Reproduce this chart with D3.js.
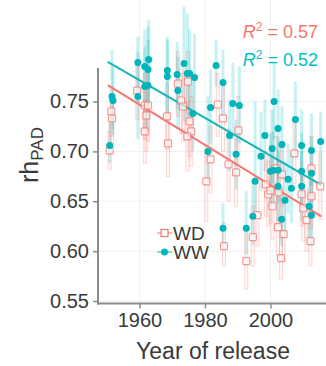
<!DOCTYPE html>
<html lang="en">
<head>
<meta charset="UTF-8">
<title>rhPAD by year of release</title>
<script src="https://d3js.org/d3.v7.min.js"></script>
<style>
  html, body { margin: 0; padding: 0; background: #fff; }
  svg { display: block; font-family: "Liberation Sans", Arial, sans-serif; }
  .tick text { fill: #3a3a3a; font-size: 20px; }
</style>
</head>
<body>
<svg id="chart" width="326" height="366"></svg>
<script>
// WW series (filled circles): year, value, lower and upper end of the bar
const wwYear  = [1950.9,1951.6,1951.9,1959.5,1959.5,1961.6,1962.8,1962.6,1961.6,1962.6,1968.5,1968.5,1971.5,1971.7,1973.6,1974.6,1975.3,1976.8,1976.3,1980.9,1981.7,1983.4,1985.5,1985.5,1988.5,1990.5,1987.5,1989.5,1992.6,1994.6,1995.3,1997.1,1998.3,2000.5,2001.1,2002.3,2003.5,2000.0,2000.8,2002.3,2002.3,2005.4,2006.4,2004.4,2003.4,2007.6,2009.5,2009.5,2009.5,2011.8,2012.5,2012.5,2012.5,2015.3];
const wwValue = [0.706,0.755,0.751,0.789,0.755,0.785,0.792,0.782,0.765,0.766,0.781,0.775,0.777,0.761,0.788,0.778,0.778,0.774,0.738,0.700,0.744,0.786,0.769,0.623,0.748,0.746,0.716,0.697,0.623,0.635,0.670,0.695,0.716,0.703,0.750,0.723,0.707,0.680,0.681,0.681,0.665,0.672,0.663,0.651,0.632,0.732,0.706,0.680,0.665,0.645,0.701,0.678,0.636,0.710];
const wwLow   = [0.688,0.722,0.716,0.748,0.712,0.738,0.748,0.735,0.722,0.720,0.740,0.735,0.742,0.722,0.730,0.728,0.735,0.738,0.700,0.668,0.708,0.765,0.733,0.603,0.712,0.708,0.680,0.662,0.597,0.606,0.635,0.660,0.680,0.668,0.712,0.688,0.672,0.645,0.645,0.648,0.630,0.638,0.628,0.615,0.605,0.695,0.670,0.645,0.630,0.612,0.665,0.642,0.605,0.668];
const wwHigh  = [0.728,0.802,0.785,0.815,0.800,0.822,0.832,0.825,0.805,0.812,0.815,0.812,0.810,0.795,0.845,0.838,0.822,0.818,0.778,0.755,0.782,0.812,0.802,0.648,0.789,0.785,0.752,0.732,0.660,0.668,0.750,0.740,0.752,0.742,0.790,0.762,0.745,0.718,0.720,0.715,0.700,0.708,0.700,0.690,0.665,0.770,0.742,0.718,0.700,0.680,0.738,0.715,0.670,0.740];

// WD series (open squares)
const wdYear  = [1950.9,1951.4,1951.6,1959.3,1961.6,1962.6,1962.1,1961.6,1968.4,1968.7,1971.7,1974.8,1972.7,1973.3,1975.3,1975.8,1974.6,1981.7,1980.4,1983.9,1985.5,1985.8,1987.2,1989.5,1990.2,1992.6,1994.6,1996.0,1998.6,1999.3,2000.0,2000.6,2001.5,2002.3,2002.5,2003.5,2003.2,2004.0,2007.3,2009.5,2010.0,2011.0,2012.2,2012.5,2012.5,2015.2];
const wdValue = [0.701,0.740,0.733,0.761,0.746,0.746,0.736,0.720,0.735,0.708,0.768,0.770,0.751,0.745,0.730,0.720,0.715,0.692,0.670,0.747,0.733,0.605,0.687,0.679,0.721,0.590,0.614,0.636,0.667,0.657,0.661,0.645,0.683,0.624,0.659,0.677,0.593,0.617,0.698,0.657,0.643,0.631,0.610,0.683,0.655,0.665];
const wdLow   = [0.682,0.715,0.708,0.732,0.712,0.710,0.700,0.688,0.702,0.675,0.735,0.738,0.718,0.710,0.695,0.685,0.680,0.658,0.630,0.715,0.700,0.585,0.650,0.645,0.688,0.562,0.585,0.605,0.635,0.625,0.628,0.612,0.650,0.595,0.625,0.645,0.572,0.590,0.668,0.625,0.610,0.600,0.585,0.650,0.622,0.632];
const wdHigh  = [0.720,0.765,0.758,0.790,0.778,0.780,0.770,0.752,0.768,0.740,0.800,0.800,0.782,0.778,0.765,0.755,0.750,0.725,0.705,0.778,0.765,0.628,0.722,0.712,0.755,0.620,0.645,0.668,0.700,0.690,0.695,0.680,0.715,0.655,0.692,0.710,0.615,0.648,0.730,0.690,0.675,0.662,0.640,0.715,0.688,0.698];

// fitted lines, end points
const fitYear = [1950.3, 2015.5];
const fitWD = [0.7665, 0.6348];
const fitWW = [0.7898, 0.6665];
const r2Labels = ["0.57", "0.52"];
const seriesNames = ["WD", "WW"];

const xTicks = [1960, 1980, 2000];
const yTicks = [0.55, 0.60, 0.65, 0.70, 0.75];

const colWD = "#F8766D", colWW = "#00BFC4";

const svg = d3.select("#chart");
const x = d3.scaleLinear().domain([1960, 2000]).range([139.5, 270.5]);
const y = d3.scaleLinear().domain([0.55, 0.75]).range([301, 101.5]);
const left = 98, bottom = 303.5, axisTop = 68;

// faint grid
svg.append("g").selectAll("line").data(xTicks).join("line")
  .attr("x1", d => x(d)).attr("x2", d => x(d)).attr("y1", 0).attr("y2", bottom)
  .attr("stroke", "#f1f1f1").attr("stroke-width", 1);
svg.append("g").selectAll("line").data(yTicks).join("line")
  .attr("x1", left).attr("x2", 326).attr("y1", d => y(d)).attr("y2", d => y(d))
  .attr("stroke", "#f1f1f1").attr("stroke-width", 1);

const ww = wwYear.map((yr, i) => ({ year: yr, value: wwValue[i], lo: wwLow[i], hi: wwHigh[i] }));
const wd = wdYear.map((yr, i) => ({ year: yr, value: wdValue[i], lo: wdLow[i], hi: wdHigh[i] }));

// error bars
svg.append("g").selectAll("line").data(ww).join("line")
  .attr("x1", d => x(d.year)).attr("x2", d => x(d.year))
  .attr("y1", d => y(d.lo)).attr("y2", d => y(d.hi))
  .attr("stroke", colWW).attr("stroke-opacity", 0.22).attr("stroke-width", 3);
svg.append("g").selectAll("rect").data(wd).join("rect")
  .attr("x", d => x(d.year) - 1.5).attr("width", 3)
  .attr("y", d => y(d.hi)).attr("height", d => y(d.lo) - y(d.hi))
  .attr("fill", colWD).attr("fill-opacity", 0.05)
  .attr("stroke", colWD).attr("stroke-opacity", 0.28).attr("stroke-width", 1);

// regression lines
const line = d3.line().x(d => x(d[0])).y(d => y(d[1]));
svg.append("path").datum(fitYear.map((yr, i) => [yr, fitWD[i]]))
  .attr("d", line).attr("fill", "none").attr("stroke", colWD).attr("stroke-width", 2);
svg.append("path").datum(fitYear.map((yr, i) => [yr, fitWW[i]]))
  .attr("d", line).attr("fill", "none").attr("stroke", "#13b5b9").attr("stroke-width", 2);

// points
svg.append("g").selectAll("rect").data(wd).join("rect")
  .attr("x", d => x(d.year) - 3.5).attr("y", d => y(d.value) - 3.5)
  .attr("width", 7).attr("height", 7).attr("rx", 1)
  .attr("fill", "#fff").attr("fill-opacity", 0.6)
  .attr("stroke", colWD).attr("stroke-opacity", 0.75).attr("stroke-width", 1.2);
svg.append("g").selectAll("circle").data(ww).join("circle")
  .attr("cx", d => x(d.year)).attr("cy", d => y(d.value)).attr("r", 3.5)
  .attr("fill", "#00B5BA");

// axes
const yAxis = svg.append("g").attr("transform", `translate(${left},0)`)
  .call(d3.axisLeft(y).tickValues(yTicks).tickFormat(d3.format(".2f")).tickSize(5).tickPadding(4));
const xAxis = svg.append("g").attr("transform", `translate(0,${bottom})`)
  .call(d3.axisBottom(x).tickValues(xTicks).tickFormat(d3.format("d")).tickSize(5).tickPadding(4));
[yAxis, xAxis].forEach(a => {
  a.select(".domain").remove();
  a.selectAll(".tick line").attr("stroke", "#8c8c8c").attr("stroke-width", 1.5);
});
svg.append("line").attr("x1", left).attr("x2", left).attr("y1", axisTop).attr("y2", bottom + 1)
  .attr("stroke", "#8c8c8c").attr("stroke-width", 2);
svg.append("line").attr("x1", left - 1).attr("x2", 326).attr("y1", bottom).attr("y2", bottom)
  .attr("stroke", "#8c8c8c").attr("stroke-width", 2);

// axis titles
svg.append("text").attr("x", 213).attr("y", 359).attr("text-anchor", "middle")
  .attr("fill", "#3a3a3a").style("font-size", "23px").text("Year of release");
const yt = svg.append("text").attr("transform", "translate(38,155) rotate(-90)")
  .attr("text-anchor", "middle").attr("fill", "#3a3a3a").style("font-size", "25px");
yt.append("tspan").text("rh");
yt.append("tspan").attr("dy", 5).style("font-size", "17px").text("PAD");

// R squared labels
[[colWD, 38], [colWW, 66]].forEach(([c, by], i) => {
  const t = svg.append("text").attr("x", 318).attr("y", by).attr("text-anchor", "end")
    .attr("fill", c).style("font-size", "18px");
  t.append("tspan").style("font-style", "italic").text("R");
  t.append("tspan").attr("dy", -7).style("font-size", "12px").text("2");
  t.append("tspan").attr("dy", 7).text(" = " + r2Labels[i]);
});

// legend
const lg = svg.append("g");
seriesNames.forEach((name, i) => {
  const ly = 233 + i * 19;
  const c = i === 0 ? colWD : colWW;
  lg.append("line").attr("x1", 157).attr("x2", 172).attr("y1", ly).attr("y2", ly)
    .attr("stroke", c).attr("stroke-opacity", 0.5).attr("stroke-width", 2);
  if (i === 0) {
    lg.append("rect").attr("x", 161).attr("y", ly - 3.5).attr("width", 7).attr("height", 7)
      .attr("fill", "#fff").attr("stroke", c).attr("stroke-width", 1.2);
  } else {
    lg.append("circle").attr("cx", 164.5).attr("cy", ly).attr("r", 3.5).attr("fill", "#00B5BA");
  }
  lg.append("text").attr("x", 173).attr("y", ly + 7).attr("fill", "#3a3a3a")
    .style("font-size", "19px").text(name);
});
</script>
</body>
</html>
